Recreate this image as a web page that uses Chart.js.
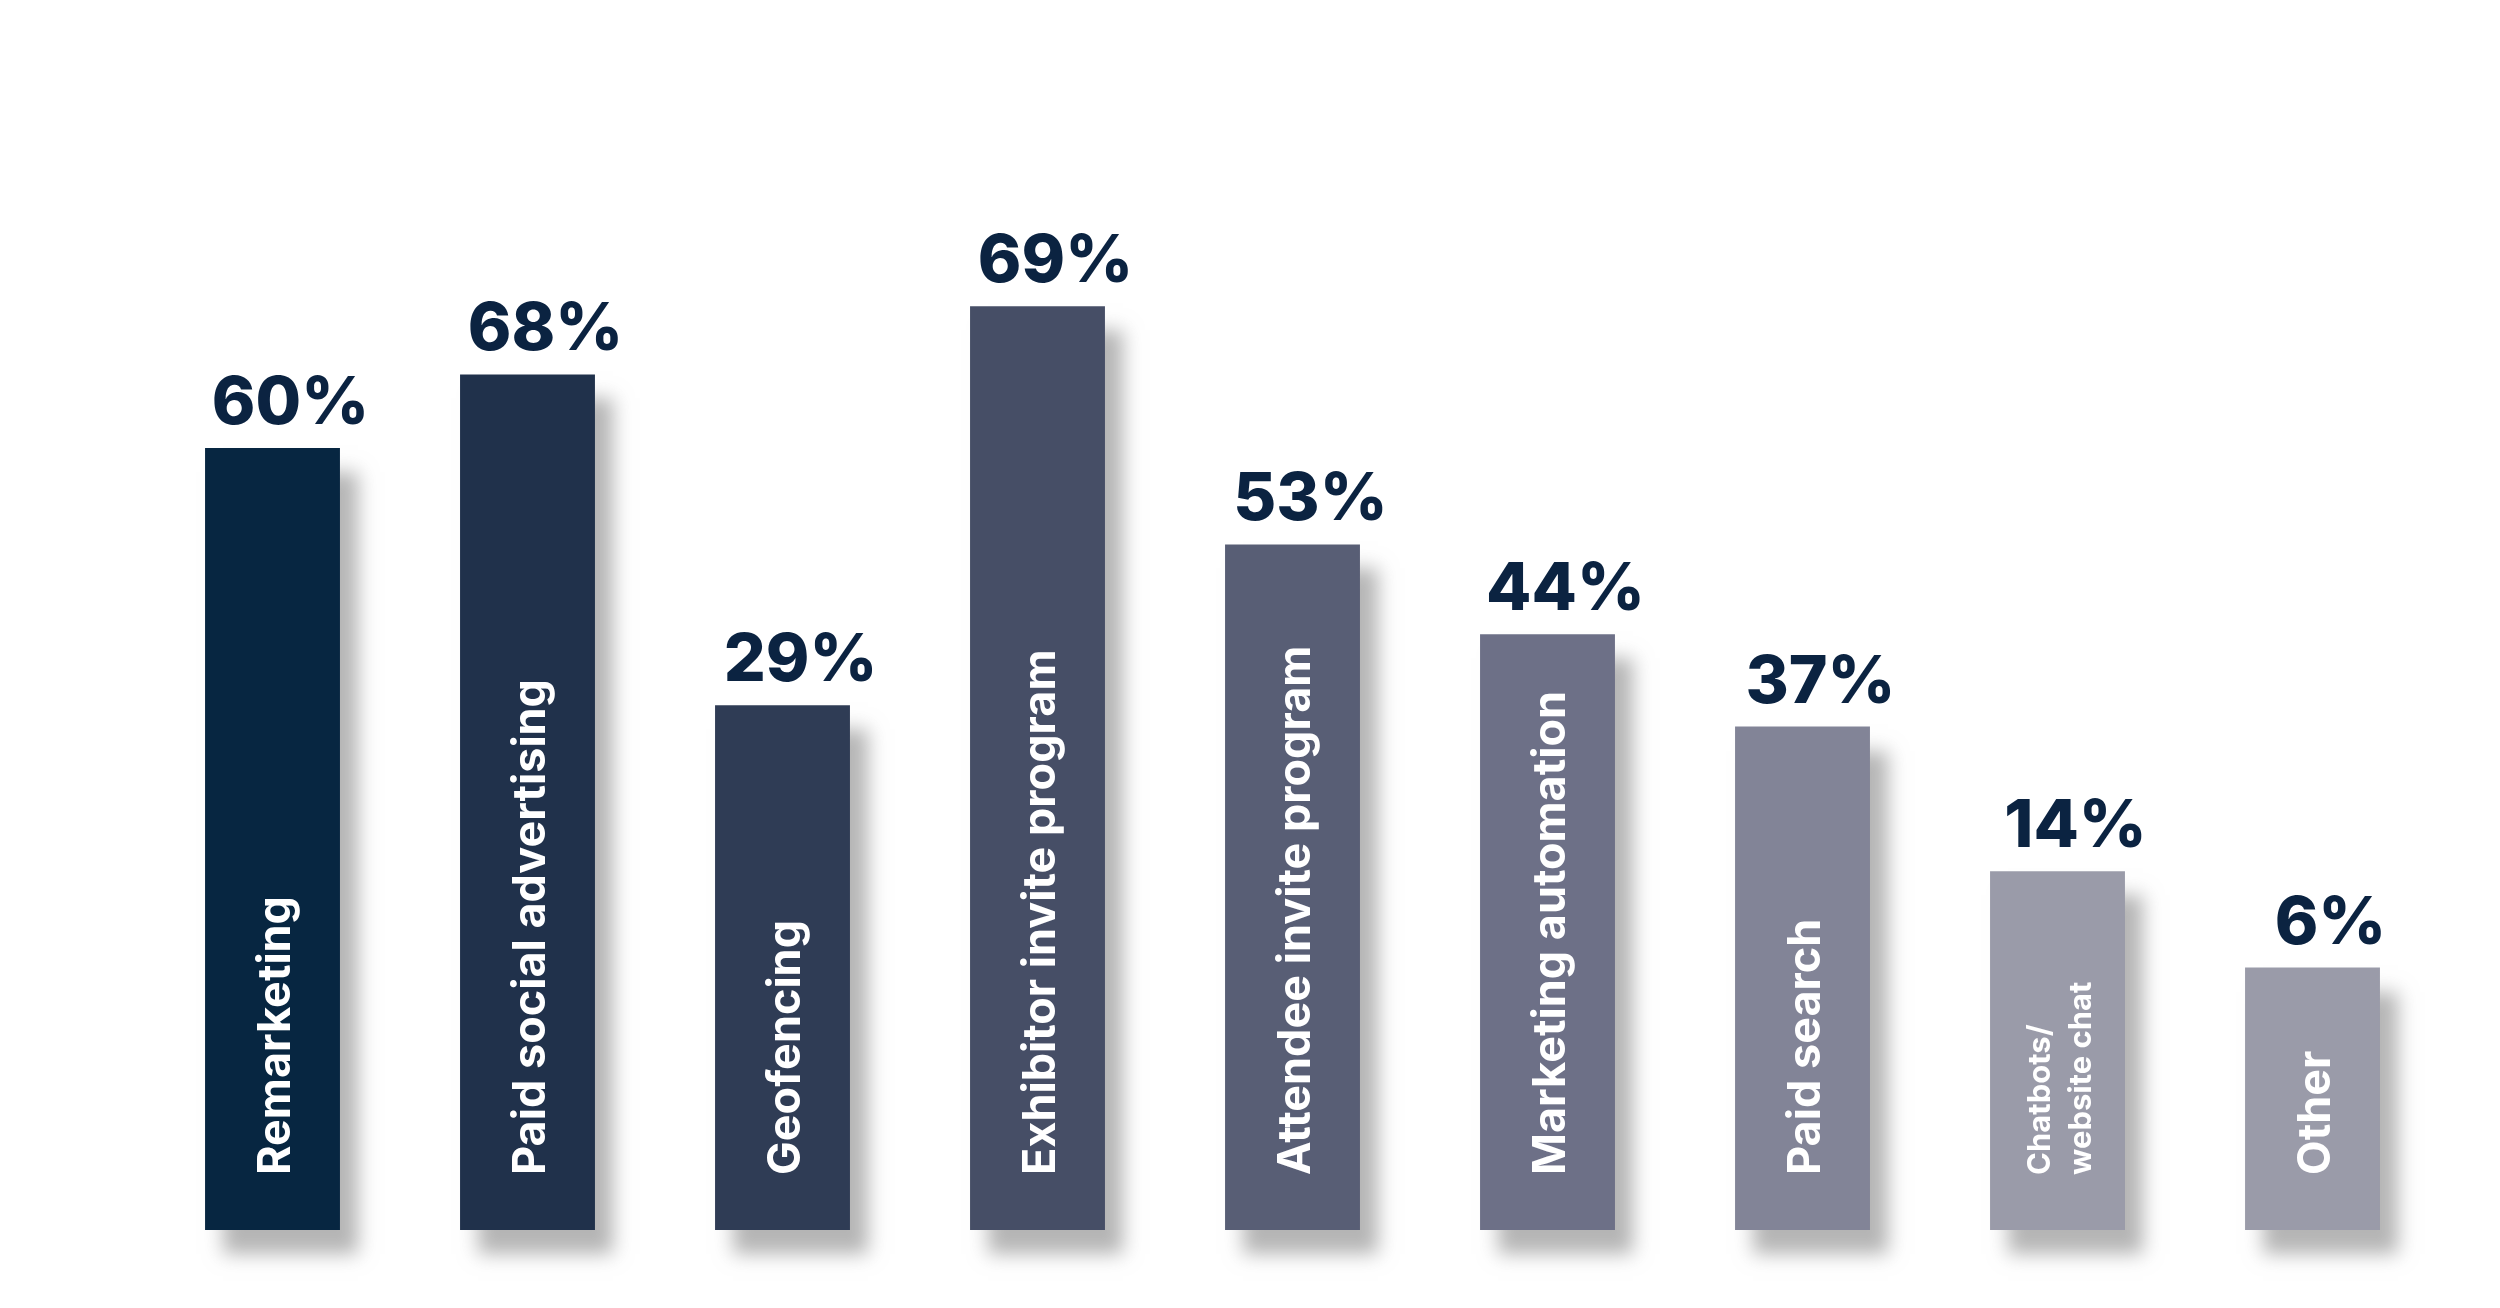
<!DOCTYPE html>
<html>
<head>
<meta charset="utf-8">
<script src="https://cdn.jsdelivr.net/npm/chart.js@4.4.1/dist/chart.umd.min.js"></script>
<style>
  html, body { margin: 0; padding: 0; background: #fff; }
  #wrap { width: 2500px; height: 1308px; }
</style>
</head>
<body>
<div id="wrap"><canvas id="bars" width="2500" height="1308"></canvas></div>
<script>
const categories = ['Remarketing', 'Paid social advertising', 'Geofencing', 'Exhibitor invite program',
    'Attendee invite program', 'Marketing automation', 'Paid search', ['Chatbots/', 'website chat'], 'Other'];
// percentages printed above each bar
const shares = [60, 68, 29, 69, 53, 44, 37, 14, 6];
// bar lengths as drawn in the infographic (not to scale with the shares), read in the same % units
const barLengths = [58.4, 63.9, 39.2, 69, 51.2, 44.5, 37.6, 26.8, 19.6];
const barColors = ['#072641', '#20314b', '#2f3c55', '#464e66', '#585e75', '#6d7087', '#828497', '#9a9ba9', '#9a9ba9'];

const shadowPlugin = {
    id: 'barShadow',
    beforeDatasetsDraw(chart) {
        const ctx = chart.ctx;
        ctx.save();
        ctx.shadowColor = 'rgba(120,120,120,0.55)';
        ctx.shadowBlur = 18;
        ctx.shadowOffsetX = 18;
        ctx.shadowOffsetY = 24;
    },
    afterDatasetsDraw(chart) {
        const ctx = chart.ctx;
        ctx.restore();
        const meta = chart.getDatasetMeta(0);

        meta.data.forEach((bar, i) => {
            // value on top
            ctx.save();
            ctx.fillStyle = '#0b2341';
            ctx.font = '800 66px Inter';
            ctx.textAlign = 'center';
            ctx.textBaseline = 'alphabetic';
            ctx.fillText(shares[i] + '%', bar.x + 18, bar.y - 24);
            ctx.restore();

            // category name up the bar
            const lines = Array.isArray(categories[i]) ? categories[i] : [categories[i]];
            const small = lines.length > 1;
            ctx.save();
            ctx.translate(bar.x, bar.base - 55);
            ctx.rotate(-Math.PI / 2);
            ctx.fillStyle = '#ffffff';
            ctx.font = (small ? '700 31px' : '700 45px') + ' Inter';
            ctx.textAlign = 'left';
            ctx.textBaseline = 'middle';
            const step = 41;
            lines.forEach((ln, j) => {
                ctx.fillText(ln, 0, (j - (lines.length - 1) / 2) * step + 4);
            });
            ctx.restore();
        });
    }
};

new Chart(document.getElementById('bars'), {
    type: 'bar',
    data: {
        labels: categories,
        datasets: [{
            data: barLengths,
            backgroundColor: barColors,
            borderWidth: 0,
            barPercentage: 1,
            categoryPercentage: 0.529,
            clip: false
        }]
    },
    options: {
        responsive: false,
        animation: false,
        layout: { padding: { top: 25, bottom: 78, left: 145, right: 60 } },
        plugins: {
            legend: { display: false },
            tooltip: { enabled: false }
        },
        scales: {
            x: { display: false },
            y: { display: false, min: 0, max: 90 }
        }
    },
    plugins: [shadowPlugin]
});
</script>
</body>
</html>
